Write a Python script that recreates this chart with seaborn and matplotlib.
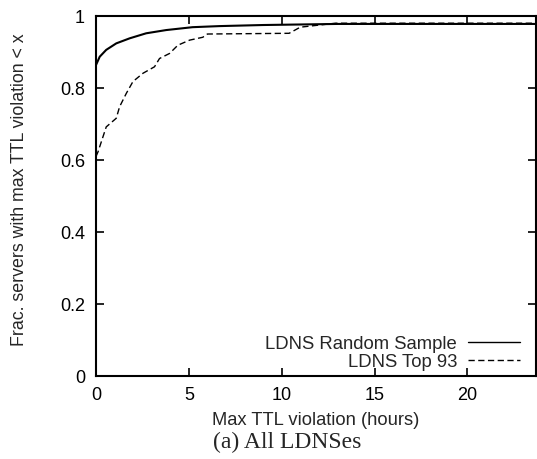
import matplotlib
matplotlib.use("Agg")
import matplotlib.pyplot as plt
import numpy as np
import pandas as pd
import seaborn as sns

# CDF points (hours, fraction)
random_x = [0, 0.2, 0.55, 1.09, 1.81, 2.7, 3.78, 5.2, 6.65, 9.0, 13.0, 23.7]
random_y = [0.864, 0.887, 0.906, 0.924, 0.938, 0.952, 0.961, 0.969, 0.972, 0.975, 0.978, 0.978]

top_x = [0, 0.11, 0.55, 1.09, 1.27, 1.63, 1.99, 2.53, 3.15, 3.42, 3.96, 4.41,
         5.04, 5.75, 6.0, 10.4, 11.0, 12.9, 23.7]
top_y = [0.61, 0.623, 0.692, 0.716, 0.748, 0.785, 0.818, 0.841, 0.859, 0.882, 0.896, 0.919,
         0.933, 0.941, 0.950, 0.952, 0.969, 0.980, 0.980]

series_names = ['LDNS Random Sample', 'LDNS Top 93']
x_ticks = [0, 5, 10, 15, 20]
y_ticks = [0, 0.2, 0.4, 0.6, 0.8, 1]

df = pd.concat([
    pd.DataFrame({'x': random_x, 'y': random_y, 'series': series_names[0]}),
    pd.DataFrame({'x': top_x, 'y': top_y, 'series': series_names[1]}),
])

sns.set_theme(style="ticks")
plt.rcParams['font.family'] = ['Liberation Sans', 'DejaVu Sans']

fig = plt.figure(figsize=(5.37, 4.59), dpi=100)
ax = fig.add_axes([0.1788, 0.1808, 0.8195, 0.7843])

sns.lineplot(data=df, x='x', y='y', hue='series', style='series',
             palette=['black', 'black'], dashes=[(None, None), (4.5, 2.5)],
             estimator=None, sort=False, linewidth=1.0, ax=ax)
ax.lines[0].set_linewidth(1.5)

ax.set_xlim(0, 23.7)
ax.set_ylim(0, 1)
ax.set_xticks(x_ticks)
ax.set_yticks(y_ticks)
ax.set_yticklabels(['0', '0.2', '0.4', '0.6', '0.8', '1'])
ax.tick_params(direction='in', length=6, width=1.2, top=True, right=True,
               labelsize=13, colors='black', pad=8)
for s in ax.spines.values():
    s.set_linewidth(1.5)
    s.set_color('black')

ax.set_xlabel('Max TTL violation (hours)', fontsize=13.2, labelpad=6)
ax.set_ylabel('Frac. servers with max TTL violation < x', fontsize=12.8)
ax.yaxis.set_label_coords(-0.155, 0.518)

leg = ax.legend(loc='lower right', bbox_to_anchor=(0.980, -0.006), markerfirst=False,
                frameon=False, fontsize=13.3, handlelength=2.8, labelspacing=0.05,
                borderaxespad=0, handletextpad=0.6)
for t in leg.get_texts():
    t.set_ha('right')
leg._legend_box.align = 'right'

fig.text(0.535, 0.037, '(a) All LDNSes', ha='center', va='center',
         family='Liberation Serif', fontsize=17)

fig.savefig('out.png', dpi=100)
